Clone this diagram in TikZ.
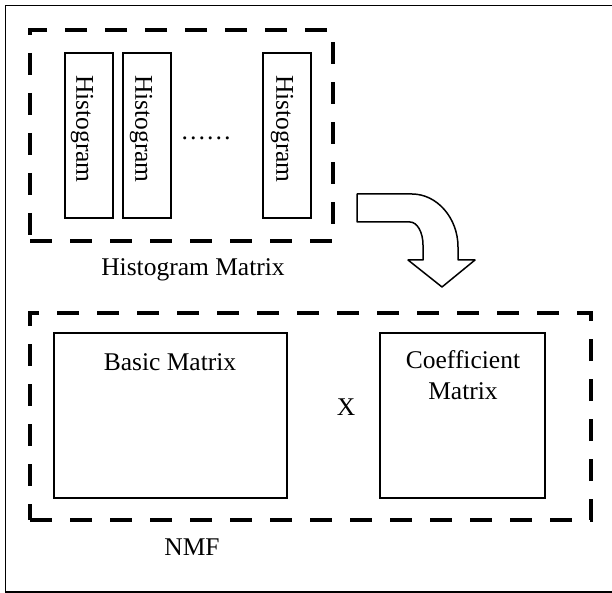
\documentclass[tikz,border=0pt]{standalone}
\usepackage{fontspec}
\setmainfont{Liberation Serif}
\begin{document}
\begin{tikzpicture}[x=1pt,y=-1pt,
  every node/.style={font=\fontsize{25.5}{31}\selectfont, inner sep=0pt, outer sep=0pt},
  frameline/.style={line width=1.5pt},
  groupbox/.style={draw, line width=4.5pt, dash pattern=on 22pt off 18pt},
  plainbox/.style={draw, line width=1.5pt},
  histbox/.style={plainbox, minimum width=48pt, minimum height=165pt},
  blockarrow/.style={draw, line width=1.5pt, line join=round, fill=white}]
\useasboundingbox (0,0) rectangle (612,593);
\draw[frameline] (614,5.5) -- (5.5,5.5) -- (5.5,592) -- (614,592);
% top group
\node[groupbox, minimum width=303pt, minimum height=211pt] (hm) at (181.5,135.5) {};
\node[histbox] (h1) at (89,135.5) {};
\node[histbox] (h2) at (147,135.5) {};
\node[histbox] (h3) at (287,135.5) {};
\node[rotate=-90] (t1) at (82,129) {Histogram};
\node[rotate=-90] (t2) at (141,129) {Histogram};
\node[rotate=-90] (t3) at (282,129) {Histogram};
\node[anchor=base] (dots) at (206,139.5) {……};
\node[anchor=base] (hmlabel) at (193,275) {Histogram Matrix};
% block arrow
\draw[blockarrow] (357,194) -- (412,194) .. controls (437,194) and (458,218) .. (458,247)
  -- (458,260) -- (475,260) -- (442,287) -- (408,260) -- (423,260) -- (423,245)
  .. controls (423,232) and (417,222) .. (410,222) -- (357,222) -- cycle;
% bottom group
\node[groupbox, minimum width=561pt, minimum height=207pt] (nmf) at (310.5,416.5) {};
\node[plainbox, minimum width=233pt, minimum height=165pt] (basic) at (170.5,415.5) {};
\node[plainbox, minimum width=165pt, minimum height=165pt] (coef) at (462.5,415.5) {};
\node[anchor=base] (basiclabel) at (170,370) {Basic Matrix};
\node[anchor=base] (coeflabel1) at (463,368) {Coefficient};
\node[anchor=base] (coeflabel2) at (463,399) {Matrix};
\node (times) at (346,407) {X};
\node[anchor=base] (nmflabel) at (192,555) {NMF};
\end{tikzpicture}
\end{document}
